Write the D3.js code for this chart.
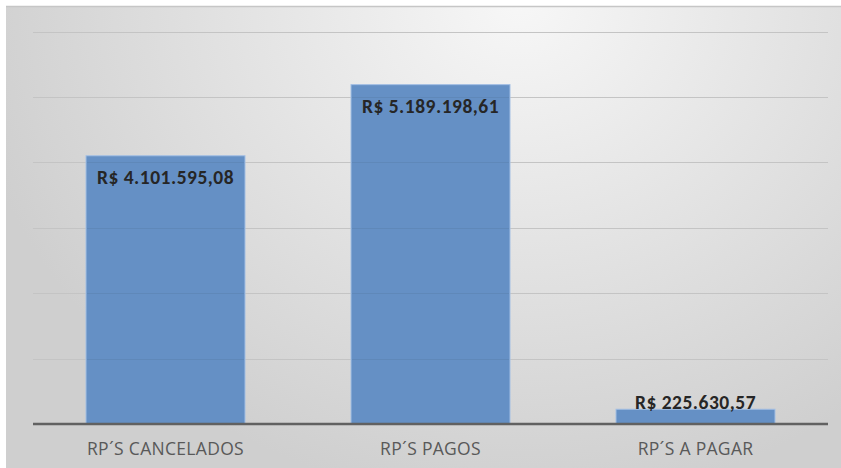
<!DOCTYPE html>
<html lang="pt">
<head>
    <meta charset="UTF-8">
    <title>RPs</title>
    <script src="https://d3js.org/d3.v7.min.js"></script>
    <style>
        body { margin: 0; background: #ffffff; }
        svg { display: block; font-family: Carlito, Lato, "Open Sans", sans-serif; }
    </style>
</head>
<body>
<script>
    // Data
    const categories = ["RP´S CANCELADOS", "RP´S PAGOS", "RP´S A PAGAR"];
    const values = [4101595.08, 5189198.61, 225630.57];
    const labels = ["R$ 4.101.595,08", "R$ 5.189.198,61", "R$ 225.630,57"];
    const gridTicks = [1000000, 2000000, 3000000, 4000000, 5000000, 6000000];

    const W = 841, H = 468;
    const plot = {left: 33, right: 828, top: 31.6, bottom: 424};

    const svg = d3.select("body").append("svg")
        .attr("width", W)
        .attr("height", H);

    // background gradient
    const defs = svg.append("defs");
    const grad = defs.append("radialGradient")
        .attr("id", "bg")
        .attr("gradientUnits", "userSpaceOnUse")
        .attr("cx", 520).attr("cy", 0).attr("r", 560)
        .attr("gradientTransform", "translate(520,0) scale(1,0.9) translate(-520,0)");
    grad.append("stop").attr("offset", "0%").attr("stop-color", "#f7f7f7");
    grad.append("stop").attr("offset", "100%").attr("stop-color", "#cfcfcf");

    svg.append("rect")
        .attr("x", 6).attr("y", 6)
        .attr("width", W - 6).attr("height", H - 6)
        .attr("fill", "url(#bg)");
    svg.append("line")
        .attr("x1", 6).attr("x2", W).attr("y1", 6.5).attr("y2", 6.5)
        .attr("stroke", "#c6c6c6").attr("stroke-width", 1.5);

    const x = d3.scaleBand()
        .domain(categories)
        .range([plot.left, plot.right])
        .paddingInner(0.4)
        .paddingOuter(0.2);

    const y = d3.scaleLinear()
        .domain([0, 6000000])
        .range([plot.bottom, plot.top]);

    // gridlines
    svg.append("g")
        .selectAll("line")
        .data(gridTicks)
        .join("line")
        .attr("x1", plot.left).attr("x2", plot.right)
        .attr("y1", d => Math.round(y(d)) + 0.5)
        .attr("y2", d => Math.round(y(d)) + 0.5)
        .attr("stroke", "#c4c4c4")
        .attr("stroke-width", 1);

    // bars
    const bars = svg.append("g")
        .selectAll("g")
        .data(values)
        .join("g");

    bars.append("rect")
        .attr("x", (d, i) => x(categories[i]))
        .attr("y", d => y(d))
        .attr("width", x.bandwidth())
        .attr("height", d => plot.bottom - y(d))
        .attr("fill", "#6590c5")
        .attr("stroke", "#a3bfe4")
        .attr("stroke-width", 1);

    // faint gridlines showing through each bar
    bars.each(function(v, i) {
        d3.select(this).selectAll("line")
            .data(gridTicks.filter(t => t < v))
            .join("line")
            .attr("x1", x(categories[i]) + 1)
            .attr("x2", x(categories[i]) + x.bandwidth() - 1)
            .attr("y1", d => Math.round(y(d)) + 0.5)
            .attr("y2", d => Math.round(y(d)) + 0.5)
            .attr("stroke", "#52779f")
            .attr("stroke-opacity", 0.3)
            .attr("stroke-width", 1);
    });

    // axis line
    svg.append("line")
        .attr("x1", plot.left).attr("x2", plot.right)
        .attr("y1", plot.bottom).attr("y2", plot.bottom)
        .attr("stroke", "#616161")
        .attr("stroke-width", 2.5);

    // value labels
    svg.append("g")
        .selectAll("text")
        .data(values)
        .join("text")
        .attr("x", (d, i) => x(categories[i]) + x.bandwidth() / 2)
        .attr("y", d => (plot.bottom - y(d) > 40) ? y(d) + 28 : y(d) - 0.5)
        .attr("text-anchor", "middle")
        .attr("font-size", "19.5px")
        .attr("letter-spacing", "0.5px")
        .attr("font-weight", "bold")
        .attr("fill", "#262626")
        .text((d, i) => labels[i]);

    // category labels
    svg.append("g")
        .selectAll("text")
        .data(categories)
        .join("text")
        .attr("x", d => x(d) + x.bandwidth() / 2)
        .attr("y", 455)
        .attr("text-anchor", "middle")
        .attr("font-family", "'Open Sans', sans-serif")
        .attr("font-size", "17.5px")
        .attr("letter-spacing", "0.3px")
        .attr("fill", "#595959")
        .text(d => d);
</script>
</body>
</html>
